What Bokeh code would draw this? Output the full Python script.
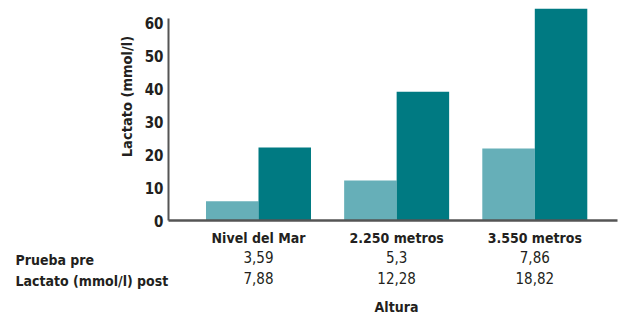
import math
from bokeh.plotting import figure
from bokeh.models import Range1d, FixedTicker, LinearAxis, Label, ColumnDataSource
from bokeh.transform import dodge
from bokeh.embed import file_html
from bokeh.resources import INLINE

categories = ["Nivel del Mar", "2.250 metros", "3.550 metros"]
pre_bars = [5.8, 12.1, 21.8]
post_bars = [22.1, 39.0, 64.2]
pre_table = ["3,59", "5,3", "7,86"]
post_table = ["7,88", "12,28", "18,82"]
row_labels = ["Prueba pre", "Lactato (mmol/l) post"]
y_ticks = [0, 10, 20, 30, 40, 50, 60]

LIGHT = "#66AFB8"
DARK = "#007A82"
TXT = "#231F20"
AX = "#555555"
FONT = "DejaVu Sans Condensed"

idx = list(range(len(categories)))
src = ColumnDataSource(dict(x=idx, pre=pre_bars, post=post_bars))

X0, X1 = -1.8675, 2.6276      # whole canvas is the frame
Y0, Y1 = -28.18, 66.67
AXIS_X = -0.652               # where the value axis stands

p = figure(width=621, height=313, output_backend="svg", toolbar_location=None,
           x_range=Range1d(X0, X1), y_range=Range1d(Y0, Y1),
           min_border_left=0, min_border_right=0, min_border_top=0,
           min_border_bottom=0, x_axis_location=None, y_axis_location=None)
p.background_fill_color = "white"
p.border_fill_color = "white"
p.outline_line_color = None
p.xgrid.visible = False
p.ygrid.visible = False

p.vbar(x=dodge("x", -0.19, range=p.x_range), top="pre", width=0.38, bottom=0,
       source=src, fill_color=LIGHT, line_color=None)
p.vbar(x=dodge("x", 0.19, range=p.x_range), top="post", width=0.38, bottom=0,
       source=src, fill_color=DARK, line_color=None)

# value axis
yax = LinearAxis(ticker=FixedTicker(ticks=y_ticks), bounds=(0, 61.3),
                 fixed_location=AXIS_X)
yax.axis_line_color = AX
yax.axis_line_width = 2
yax.major_tick_line_color = None
yax.minor_tick_line_color = None
yax.major_tick_out = 0
yax.major_tick_in = 0
yax.major_label_text_font = FONT
yax.major_label_text_font_style = "bold"
yax.major_label_text_font_size = "15px"
yax.major_label_text_color = TXT
yax.major_label_standoff = 5
p.add_layout(yax, "left")

p.add_layout(Label(x=AXIS_X, y=0, x_offset=-41, y_offset=124, angle=math.pi / 2,
                   text="Lactato (mmol/l)", text_font=FONT, text_font_style="bold",
                   text_font_size="14.5px", text_color=TXT,
                   text_align="center", text_baseline="middle"))

def make_xaxis(labels, bold, size, standoff):
    ax = LinearAxis(ticker=FixedTicker(ticks=idx), fixed_location=0,
                    major_label_overrides={i: t for i, t in zip(idx, labels)})
    ax.axis_line_color = None
    ax.major_tick_line_color = None
    ax.minor_tick_line_color = None
    ax.major_tick_out = 0
    ax.major_tick_in = 0
    ax.major_label_text_font = FONT
    ax.major_label_text_font_style = "bold" if bold else "normal"
    ax.major_label_text_font_size = size
    ax.major_label_text_color = TXT
    ax.major_label_standoff = standoff
    return ax

ax1 = make_xaxis(categories, True, "14px", 9)
ax1.bounds = (AXIS_X, 2.598)
ax1.axis_line_color = AX
ax1.axis_line_width = 2.5
p.add_layout(ax1, "below")
ax2 = make_xaxis(pre_table, False, "15px", 30)
ax2.bounds = (0, 2)
p.add_layout(ax2, "below")
ax3 = make_xaxis(post_table, False, "15px", 51)
ax3.bounds = (0, 2)
ax3.axis_label = "Altura"
ax3.axis_label_text_font = FONT
ax3.axis_label_text_font_style = "bold"
ax3.axis_label_text_font_size = "14px"
ax3.axis_label_text_color = TXT
ax3.axis_label_standoff = 12
p.add_layout(ax3, "below")

for i, t in enumerate(row_labels):
    p.add_layout(Label(x=X0, y=0, x_offset=15, y_offset=-[39, 60][i],
                       text=t, text_font=FONT, text_font_style="bold",
                       text_font_size="14px", text_color=TXT,
                       text_baseline="middle", text_align="left"))

open("out.html", "w").write(file_html(p, INLINE))
